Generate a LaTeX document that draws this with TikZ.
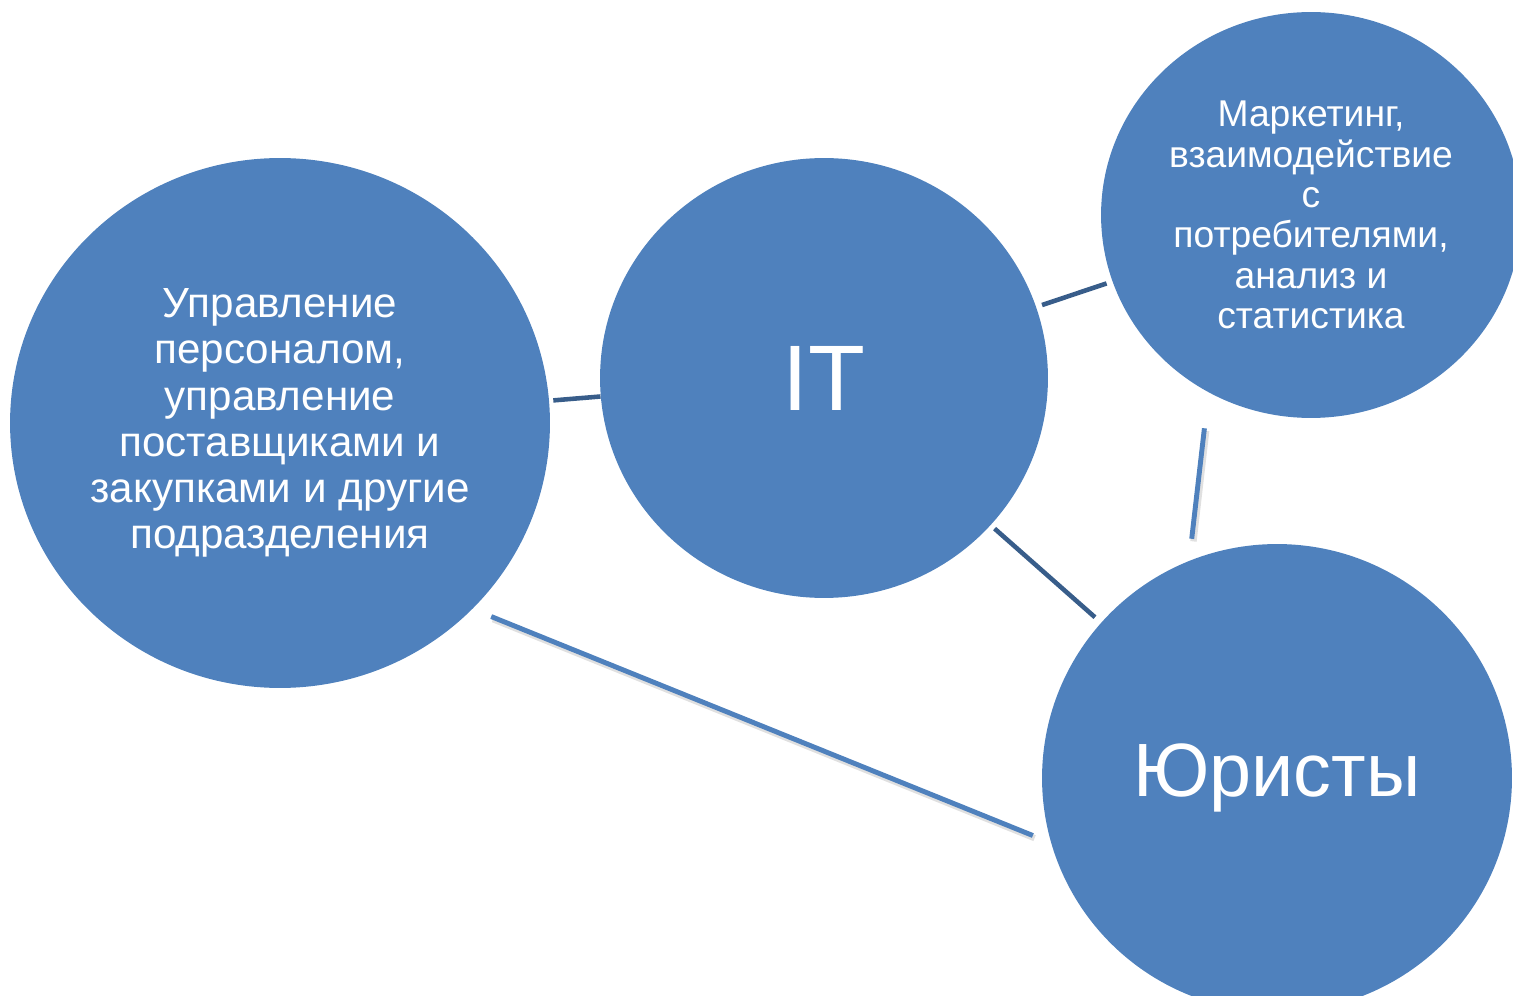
\documentclass[tikz,border=0pt]{standalone}
\usepackage{fontspec}
\setmainfont{Liberation Sans}
\usetikzlibrary{shapes.geometric}
\definecolor{blobfill}{RGB}{79,129,189}
\definecolor{linkdark}{RGB}{56,93,138}

\begin{document}
\begin{tikzpicture}[x=0.02cm, y=-0.02cm]
    \tikzset{
        blob/.style={ellipse, fill=blobfill, text=white, inner sep=0pt, align=center},
        darklink/.style={line width=2.6pt, linkdark},
        lightlink/.style={line width=2.8pt, blobfill,
            preaction={draw, black, opacity=0.12, line width=3.6pt, transform canvas={shift={(1pt,-1.5pt)}}}}
    }
    \useasboundingbox (0,0) rectangle (1513,996);
    \clip (0,0) rectangle (1513,996);

    \node [blob, minimum width=10.8cm, minimum height=10.6cm, font=\fontsize{24}{26.3}\selectfont] (staff) at (280,423)
        {Управление\\персоналом,\\управление\\поставщиками и\\закупками и другие\\подразделения};
    \node [blob, minimum width=8.96cm, minimum height=8.8cm, font=\fontsize{53}{60}\selectfont] (it) at (824,378) {IT};
    \node [blob, minimum width=8.4cm, minimum height=8.12cm, font=\fontsize{21.2}{23}\selectfont] (mkt) at (1311,215)
        {Маркетинг,\\взаимодействие\\с\\потребителями,\\анализ и\\статистика};
    \node [blob, minimum width=9.4cm, minimum height=9.36cm, font=\fontsize{43}{50}\selectfont] (law) at (1277,778) {Юристы};

    % links between the units
    \draw [darklink, shorten <=0.08cm] (staff) -- (it);
    \draw [darklink, shorten <=0.12cm, shorten >=0.12cm] (it) -- (mkt);
    \draw [darklink, shorten <=0.1cm, shorten >=0.16cm] (it) -- (law);
    \draw [lightlink, shorten <=0.72cm, shorten >=0.44cm] (mkt.240.6) -- (law.112);
    \draw [lightlink, shorten <=0.4cm, shorten >=0.39cm] (staff.316.4) -- (law.196.8);

\end{tikzpicture}
\end{document}
